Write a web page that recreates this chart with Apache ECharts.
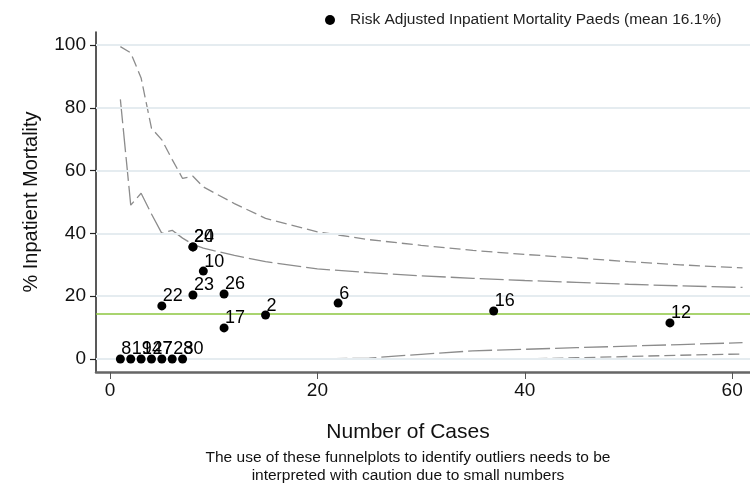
<!DOCTYPE html>
<html>
<head>
<meta charset="utf-8">
<script src="https://cdn.jsdelivr.net/npm/echarts@6/dist/echarts.min.js"></script>
<style>
html,body{margin:0;padding:0;background:#fff;}
#chart{width:750px;height:489px;}
</style>
</head>
<body>
<div id="chart"></div>
<script>
// Hospital points
const hospitalIds = ['20','24','10','23','26','22','17','2','6','16','12','8','19','14','27','7','28','30'];
const caseCounts  = [8, 8, 9, 8, 11, 5, 11, 15, 22, 37, 54, 1, 2, 3, 4, 5, 6, 7];
const mortality   = [35.7, 35.7, 28.0, 20.4, 20.7, 16.9, 9.9, 14.0, 17.8, 15.3, 11.5, 0, 0, 0, 0, 0, 0, 0];

// Funnel control limits
const funnelN  = [1, 2, 3, 4, 5, 6, 7, 8, 9, 10, 12, 15, 20, 25, 30, 35, 40, 45, 50, 55, 61];
const upper998 = [99.5, 97.5, 89.5, 73.5, 69.8, 63.5, 57.5, 58.2, 54.8, 53, 49.5, 44.8, 40.5, 38, 36.2, 34.6, 33.3, 32.2, 31, 30, 29];
const upper95  = [82.7, 49, 52.8, 46.2, 40, 41, 38.5, 36.5, 35.3, 34.5, 33, 31, 28.7, 27.5, 26.5, 25.7, 25, 24.4, 23.8, 23.3, 22.8];
const lower95  = [0, 0, 0, 0, 0, 0, 0, 0, 0, 0, 0, 0, 0, 0.3, 1.5, 2.6, 3.1, 3.6, 4.1, 4.6, 5.2];
const lower998 = [0, 0, 0, 0, 0, 0, 0, 0, 0, 0, 0, 0, 0, 0, 0, 0, 0, 0.4, 0.8, 1.2, 1.6];

const meanLine = 14.3;
const xTicks = [0, 20, 40, 60];
const yTicks = [0, 20, 40, 60, 80, 100];

const legendName = 'Risk Adjusted Inpatient Mortality Paeds (mean 16.1%)';
const xTitle = 'Number of Cases';
const yTitle = '% Inpatient Mortality';
const footnote = 'The use of these funnelplots to identify outliers needs to be\ninterpreted with caution due to small numbers';

const FONT = '"Liberation Sans", Arial, Helvetica, sans-serif';
const pair = (xs, ys) => xs.map((x, i) => [x, ys[i]]);

const lineGray = '#8c8c8c';
function funnelSeries(name, ys, dash) {
  return {
    name: name, type: 'line', data: pair(funnelN, ys),
    symbol: 'none', silent: true, z: 3,
    lineStyle: { color: lineGray, width: 1.3, type: dash }
  };
}

const chart = echarts.init(document.getElementById('chart'), null, { renderer: 'canvas' });
chart.setOption({
  animation: false,
  backgroundColor: '#fff',
  textStyle: { fontFamily: FONT },
  grid: { left: 96, right: 0, top: 32, bottom: 117, containLabel: false },
  legend: {
    data: [legendName],
    left: 320, top: 7,
    icon: 'circle', itemWidth: 10, itemHeight: 10, itemGap: 8,
    textStyle: { fontFamily: FONT, fontSize: 15.5, color: '#222', padding: [0, 0, 0, 10] }
  },
  xAxis: {
    type: 'value', min: -1.35, max: 61.72,
    axisLine: { show: true, onZero: false, lineStyle: { color: '#666', width: 2.5 } },
    axisTick: { show: true, customValues: xTicks, length: 7, lineStyle: { color: '#555', width: 1 } },
    axisLabel: { customValues: xTicks, fontFamily: FONT, fontSize: 19, color: '#111', margin: 9 },
    splitLine: { show: false }
  },
  yAxis: {
    type: 'value', min: -4.14, max: 104.14,
    name: yTitle, nameLocation: 'middle', nameGap: 55,
    nameTextStyle: { fontFamily: FONT, fontSize: 20, color: '#111' },
    axisLine: { show: true, onZero: false, lineStyle: { color: '#222', width: 1.5 } },
    axisTick: { show: true, customValues: yTicks, length: 6, lineStyle: { color: '#222', width: 1.2 } },
    axisLabel: { customValues: yTicks, fontFamily: FONT, fontSize: 19, color: '#111', margin: 10 },
    splitLine: { show: false }
  },
  graphic: [
    { type: 'text', z: 10, x: 408, y: 432,
      style: { text: xTitle, textAlign: 'center', textVerticalAlign: 'middle',
               font: '21px ' + FONT, fill: '#111' } },
    { type: 'text', z: 10, x: 408, y: 467,
      style: { text: footnote, textAlign: 'center', textVerticalAlign: 'middle', lineHeight: 18,
               font: '15.5px ' + FONT, fill: '#111' } }
  ],
  series: [
    {
      name: 'grid', type: 'line', data: [], silent: true, z: 1,
      markLine: {
        silent: true, symbol: 'none', animation: false,
        label: { show: false },
        lineStyle: { color: '#e5ecf0', width: 2, type: 'solid' },
        data: yTicks.map(v => ({ yAxis: v }))
      }
    },
    {
      name: 'mean', type: 'line', data: [], silent: true, z: 2,
      markLine: {
        silent: true, symbol: 'none', animation: false,
        label: { show: false },
        lineStyle: { color: '#8cc63f', width: 1.6, type: 'solid' },
        data: [{ yAxis: meanLine }]
      }
    },
    funnelSeries('upper998', upper998, [11, 5]),
    funnelSeries('upper95', upper95, [24, 5]),
    funnelSeries('lower95', lower95, [24, 5]),
    funnelSeries('lower998', lower998, [11, 5]),
    {
      name: legendName, type: 'scatter', z: 5,
      symbol: 'circle', symbolSize: 9,
      itemStyle: { color: '#000', opacity: 1 },
      data: hospitalIds.map((id, i) => ({ name: id, value: [caseCounts[i], mortality[i]] })),
      label: {
        show: true, formatter: '{b}', position: [5.5, -14],
        fontFamily: FONT, fontSize: 18, color: '#000', opacity: 1
      }
    }
  ]
});
</script>
</body>
</html>
